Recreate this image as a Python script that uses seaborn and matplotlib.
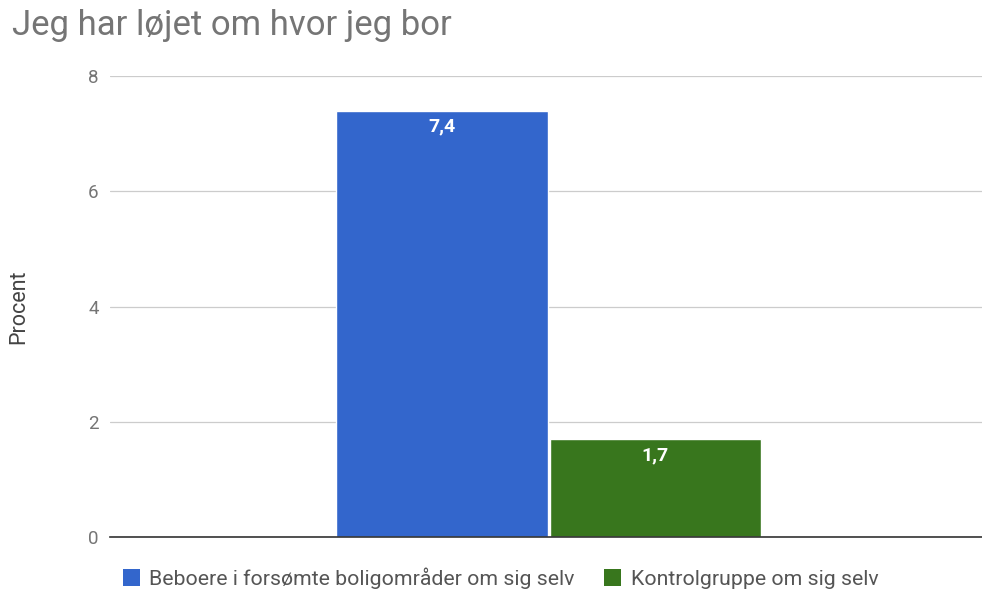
import pandas as pd
import matplotlib.pyplot as plt
import seaborn as sns


categories = ["Jeg har løjet om hvor jeg bor"]
groups = ["Beboere i forsømte boligområder om sig selv", "Kontrolgruppe om sig selv"]
values = [7.4, 1.7]
colors = ["#3366CC", "#38761D"]
y_ticks = [0, 2, 4, 6, 8]


def main():
    df = pd.DataFrame({
        "kategori": categories * len(groups),
        "gruppe": groups,
        "procent": values,
    })

    sns.set_style("white")
    plt.rcParams["font.family"] = ["Roboto", "DejaVu Sans"]

    fig = plt.figure(figsize=(9.82, 5.9), dpi=100)
    ax = fig.add_axes([0.112, 0.09, 0.888, 0.781])

    sns.barplot(
        data=df,
        x="kategori",
        y="procent",
        hue="gruppe",
        palette=colors,
        saturation=1,
        width=0.49,
        gap=0.01,
        legend=False,
        ax=ax,
    )

    for container in ax.containers:
        labels = [f"{v:.1f}".replace(".", ",") for v in container.datavalues]
        ax.bar_label(
            container,
            labels=labels,
            label_type="edge",
            padding=-18,
            color="white",
            fontsize=14,
            fontweight="bold",
        )

    ax.set_xlim(-0.503, 0.497)
    ax.set_ylim(0, 8)
    ax.set_yticks(y_ticks)
    ax.set_yticklabels([str(t) for t in y_ticks])
    ax.set_xticks([])
    ax.set_xlabel("")
    ax.set_ylabel("")

    ax.yaxis.grid(True, color="#CCCCCC", linewidth=0.9)
    ax.set_axisbelow(True)
    ax.tick_params(axis="y", length=0, pad=8, labelsize=13.5, labelcolor="#757575")
    for side in ["left", "right", "top"]:
        ax.spines[side].set_visible(False)
    ax.spines["bottom"].set_color("#333333")
    ax.spines["bottom"].set_linewidth(1.2)

    fig.text(0.012, 0.9407, "Jeg har løjet om hvor jeg bor",
             fontsize=25, color="#757575", va="baseline")
    fig.text(0.019, 0.48, "Procent", fontsize=15.5, color="#444444",
             rotation=90, ha="center", va="center")

    handles = [
        plt.Rectangle((0, 0), 1, 1, facecolor=c, edgecolor="none") for c in colors
    ]
    fig.legend(
        handles,
        groups,
        loc="center left",
        bbox_to_anchor=(0.125, 1 - 578 / 590),
        borderaxespad=0,
        borderpad=0,
        ncol=2,
        frameon=False,
        fontsize=15.3,
        handlelength=0.8,
        handleheight=0.8,
        handletextpad=0.45,
        columnspacing=1.4,
        labelcolor="#555555",
    )

    plt.savefig("out.png", dpi=100)
    plt.close()


if __name__ == "__main__":
    main()
